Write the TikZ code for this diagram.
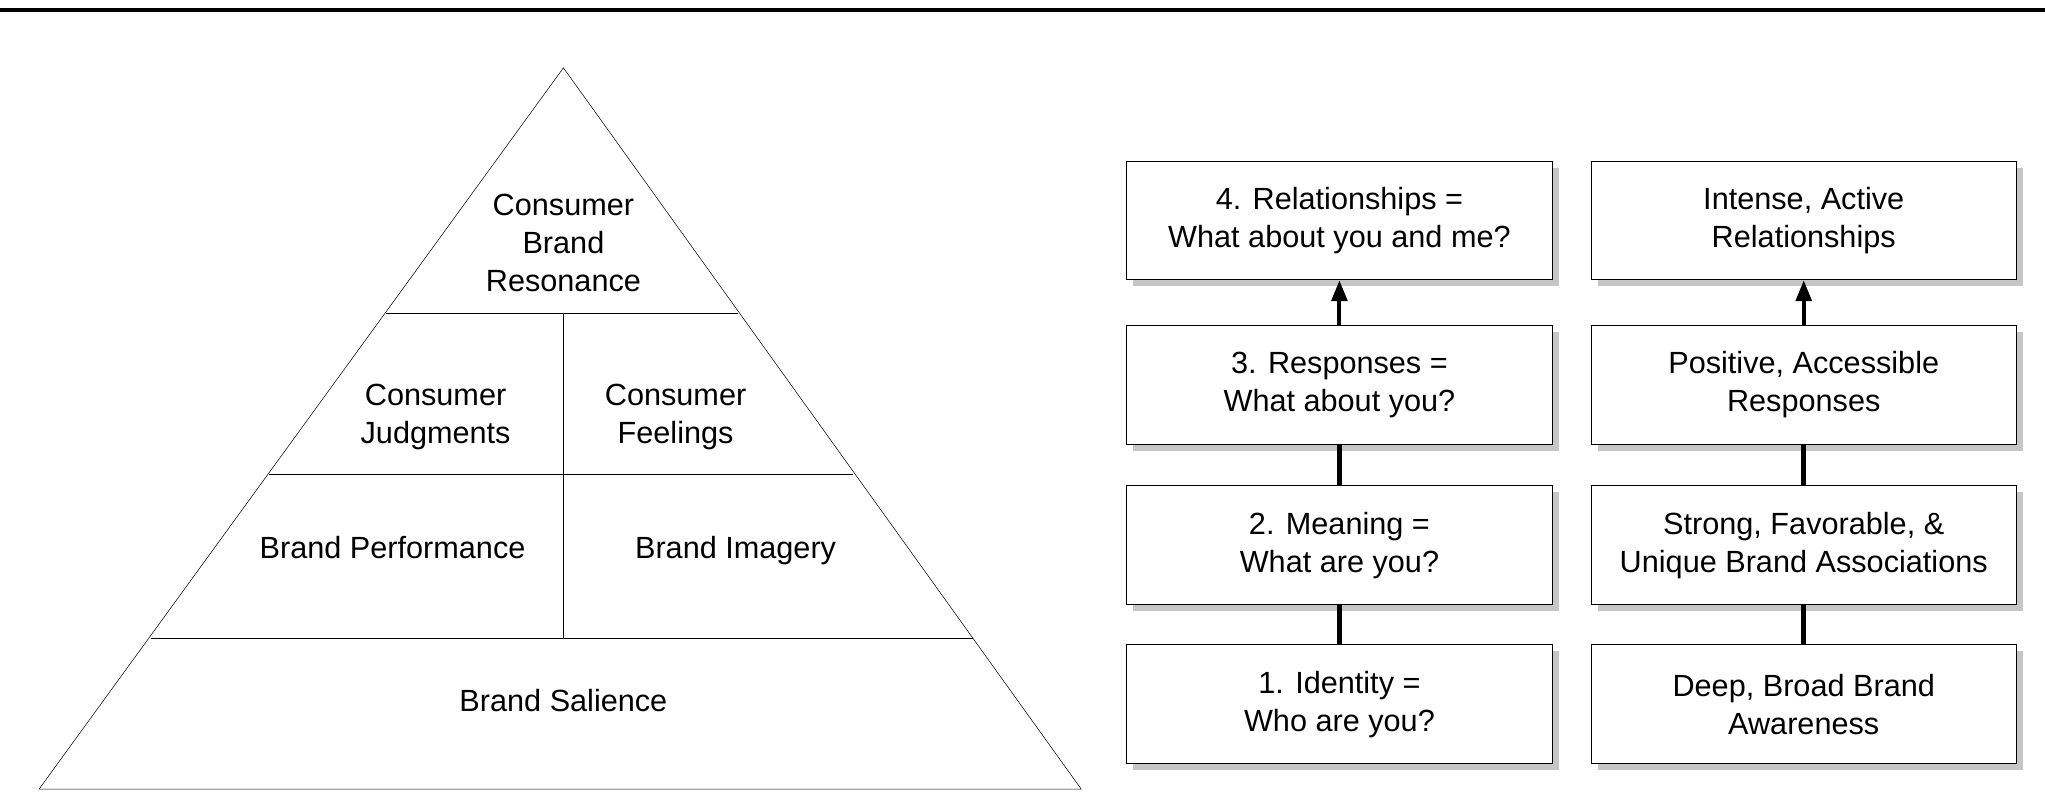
\documentclass[tikz,border=0pt]{standalone}
\usepackage{fontspec}
\setmainfont{Liberation Sans}
\usetikzlibrary{positioning,arrows.meta}
\tikzset{
    level/.style={align=center, font=\fontsize{23.5}{29}\selectfont, text depth=0pt},
    stepBox/.style={draw, thick, fill=white, minimum width=326pt, minimum height=91pt, align=center,
        font=\fontsize{23.5}{29}\selectfont, inner sep=0pt},
    shadowBox/.style={fill=gray!45, minimum width=326pt, minimum height=91pt, inner sep=0pt},
    link/.style={line width=4pt},
    up/.style={line width=3pt, -{Triangle[length=16pt,width=12pt]}}
}
\begin{document}
\begin{tikzpicture}[x=1pt, y=-1pt]
    \useasboundingbox (0,0) rectangle (1568,618);
    \draw[line width=3pt] (0,8) -- (1568,8);
    % pyramid
    \draw (432,52) -- (829,605) -- (30,605) -- cycle;
    \draw (296,240) -- (566,240);
    \draw (206,364) -- (654,364);
    \draw (116,489) -- (746,489);
    \draw (432,240) -- (432,489);
    \node[level] (resonance) at (432,186) {Consumer\\Brand\\Resonance};
    \node[level] (judgments) at (334,317) {Consumer\\Judgments};
    \node[level] (feelings) at (518,317) {Consumer\\Feelings};
    \node[level] (performance) at (301,420) {Brand Performance};
    \node[level] (imagery) at (564,420) {Brand Imagery};
    \node[level] (salience) at (432,537) {Brand Salience};
    % steps
    \foreach \name/\x/\y/\txt in {
        q4/1027/169/{4. Relationships =\\What about you and me?},
        q3/1027/295/{3. Responses =\\What about you?},
        q2/1027/418/{2. Meaning =\\What are you?},
        q1/1027/540/{1. Identity =\\Who are you?},
        a4/1383/169/{Intense, Active\\Relationships},
        a3/1383/295/{Positive, Accessible\\Responses},
        a2/1383/418/{Strong, Favorable, \&\\Unique Brand Associations},
        a1/1383/540/{Deep, Broad Brand\\Awareness}} {
        \node[shadowBox] at (\x+5,\y+5) {};
        \node[stepBox] (\name) at (\x,\y) {\txt};
    }
    \draw[link] (q1) -- (q2);
    \draw[link] (q2) -- (q3);
    \draw[up] (q3) -- (q4);
    \draw[link] (a1) -- (a2);
    \draw[link] (a2) -- (a3);
    \draw[up] (a3) -- (a4);
\end{tikzpicture}
\end{document}
